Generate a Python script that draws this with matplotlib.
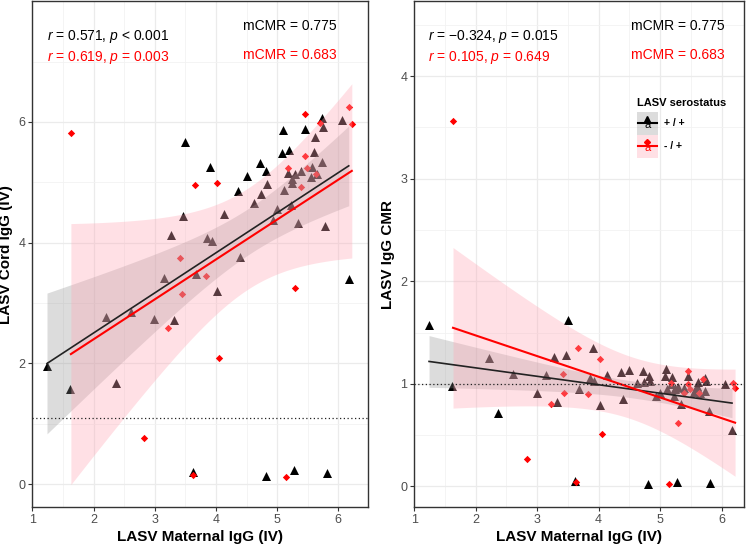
import numpy as np
import matplotlib
matplotlib.use('Agg')
from matplotlib import pyplot as plt
from matplotlib.patches import Rectangle
from matplotlib.ticker import MultipleLocator

plt.rcParams['font.family'] = ['Liberation Sans', 'DejaVu Sans']
plt.rcParams['mathtext.fontset'] = 'custom'
plt.rcParams['mathtext.rm'] = 'Liberation Sans'
plt.rcParams['mathtext.it'] = 'Liberation Sans:italic'

# LASV serostatus +/+ (black triangles): maternal IgG vs cord IgG (IV)
pos_maternal = [3.50, 3.90, 5.10, 5.46, 5.73, 5.75, 6.06, 5.08, 5.19, 4.72, 4.82, 4.50, 4.36, 3.47,
                3.27, 4.13, 5.62, 5.60, 5.73, 5.57, 5.55, 5.65, 5.39, 5.29, 5.17, 5.24, 5.25, 5.12,
                4.84, 4.73, 4.63, 5.00, 4.94, 5.23, 5.34, 5.79, 3.86, 3.93, 4.40, 6.17, 3.15, 3.68,
                4.02, 2.21, 2.61, 2.99, 3.32, 1.24, 1.62, 2.36, 3.62, 4.81, 5.28, 5.81]
pos_cord = [5.67, 5.25, 5.86, 5.89, 6.06, 5.92, 6.04, 5.49, 5.53, 5.32, 5.19, 5.10, 4.85, 4.45,
            4.12, 4.47, 5.75, 5.51, 5.33, 5.26, 5.09, 5.14, 5.19, 5.14, 5.15, 5.05, 4.99, 4.88,
            4.98, 4.81, 4.65, 4.56, 4.37, 4.62, 4.32, 4.28, 4.08, 4.03, 3.77, 3.40, 3.42, 3.48,
            3.20, 2.77, 2.85, 2.73, 2.72, 1.95, 1.58, 1.68, 0.20, 0.13, 0.24, 0.19]

# LASV serostatus -/+ (red diamonds)
neg_maternal = [1.63, 5.45, 6.18, 6.22, 5.70, 5.46, 5.17, 5.48, 5.64, 5.39, 3.66, 4.02, 3.42, 3.83,
                3.44, 3.22, 4.05, 5.29, 2.83, 3.63, 5.15]
neg_cord = [5.81, 6.14, 6.25, 5.96, 5.98, 5.43, 5.23, 5.23, 5.14, 4.92, 4.95, 4.99, 3.75, 3.44,
            3.15, 2.59, 2.09, 3.25, 0.77, 0.15, 0.11]

# cord-to-maternal ratio (CMR) of each pair
pos_cmr = np.array(pos_cord) / np.array(pos_maternal)
neg_cmr = np.array(neg_cord) / np.array(neg_maternal)

cord_cutoff = 1.1
cmr_ref = 1.0

cord_stats = ['$r$ = 0.571, $p$ < 0.001', '$r$ = 0.619, $p$ = 0.003']
cmr_stats = ['$r$ = \u22120.324, $p$ = 0.015', '$r$ = 0.105, $p$ = 0.649']
mcmr_labels = ['mCMR = 0.775', 'mCMR = 0.683']
group_labels = ['+ / +', '- / +']

RED = '#FF0000'
GREY_FILL = '#8C8C8C'
PINK_FILL = '#FFA8B6'


def t975(df):
    # Cornish-Fisher approximation of the 97.5% t quantile
    z = 1.959964
    return z + (z**3 + z) / (4 * df) + (5 * z**5 + 16 * z**3 + 3 * z) / (96 * df**2)


def lm_smooth(ax, x, y, fill, alpha):
    x = np.asarray(x, float)
    y = np.asarray(y, float)
    n = len(x)
    b, a = np.polyfit(x, y, 1)
    xs = np.linspace(x.min(), x.max(), 100)
    fit = a + b * xs
    s = np.sqrt(np.sum((y - (a + b * x)) ** 2) / (n - 2))
    se = s * np.sqrt(1 / n + (xs - x.mean()) ** 2 / np.sum((x - x.mean()) ** 2))
    t = t975(n - 2)
    ax.fill_between(xs, fit - t * se, fit + t * se, color=fill, alpha=alpha, lw=0, zorder=3)
    return xs, fit


def style(ax):
    ax.set_facecolor('white')
    ax.xaxis.set_major_locator(MultipleLocator(1))
    ax.xaxis.set_minor_locator(MultipleLocator(0.5))
    ax.grid(which='major', color='#EBEBEB', lw=0.9, zorder=0)
    ax.grid(which='minor', color='#F2F2F2', lw=0.6, zorder=0)
    ax.tick_params(which='major', length=3, width=0.8, color='#333333', labelcolor='#4D4D4D',
                   labelsize=9, pad=2)
    ax.tick_params(which='minor', length=0)
    for sp in ax.spines.values():
        sp.set_color('#333333')
        sp.set_linewidth(1.0)
    ax.set_axisbelow(True)


def panel(ax, y_pos, y_neg, hline, stats, tx, mx):
    ax.scatter(pos_maternal, y_pos, marker='^', s=42, color='black', lw=0, zorder=2)
    ax.scatter(neg_maternal, y_neg, marker='D', s=14, color=RED, lw=0, zorder=2)
    xb, fb = lm_smooth(ax, pos_maternal, y_pos, GREY_FILL, 0.3)
    xr, fr = lm_smooth(ax, neg_maternal, y_neg, PINK_FILL, 0.35)
    ax.plot(xb, fb, color='#222222', lw=1.2, zorder=4)
    ax.plot(xr, fr, color=RED, lw=1.5, zorder=4)
    ax.axhline(hline, color='#222222', lw=0.9, ls=(0, (1, 2)), zorder=4)
    ax.text(tx, 0.931, stats[0], transform=ax.transAxes, fontsize=10, color='black', va='center')
    ax.text(tx, 0.889, stats[1], transform=ax.transAxes, fontsize=10, color=RED, va='center')
    ax.text(mx, 0.951, mcmr_labels[0], transform=ax.transAxes, fontsize=10, color='black',
            va='center', ha='right')
    ax.text(mx, 0.893, mcmr_labels[1], transform=ax.transAxes, fontsize=10, color=RED,
            va='center', ha='right')
    ax.set_xlabel('LASV Maternal IgG (IV)', fontsize=11, fontweight='bold')
    ax.xaxis.set_label_coords(0.5, -0.045)
    style(ax)


fig = plt.figure(figsize=(7.5, 5.45), dpi=100)
ax1 = fig.add_axes([0.0431, 0.0697, 0.448, 0.928])
ax2 = fig.add_axes([0.5524, 0.0697, 0.4400, 0.928])

panel(ax1, pos_cord, neg_cord, cord_cutoff, cord_stats, 0.045, 0.905)
ax1.set_xlim(1.0, 6.49)
ax1.set_ylim(-0.38, 8.0)
ax1.set_yticks([0, 2, 4, 6])
ax1.yaxis.set_minor_locator(MultipleLocator(1))
ax1.set_ylabel('LASV Cord IgG (IV)', fontsize=11, fontweight='bold')
ax1.yaxis.set_label_coords(-0.057, 0.5)

panel(ax2, pos_cmr, neg_cmr, cmr_ref, cmr_stats, 0.042, 0.939)
ax2.set_xlim(1.0, 6.37)
ax2.set_ylim(-0.2, 4.73)
ax2.set_yticks([0, 1, 2, 3, 4])
ax2.yaxis.set_minor_locator(MultipleLocator(0.5))
ax2.set_ylabel('LASV IgG CMR', fontsize=11, fontweight='bold')
ax2.yaxis.set_label_coords(-0.058, 0.5)

# legend drawn by hand inside the right panel (axes fraction coordinates)
tr = ax2.transAxes
ax2.text(0.674, 0.799, 'LASV serostatus', transform=tr, fontsize=8, fontweight='bold',
         va='center', ha='left', zorder=6)
key_w, key_h = 0.065, 0.045
for i, (col, fill, alpha, mk, ms) in enumerate([('black', GREY_FILL, 0.3, '^', 4.5),
                                                (RED, PINK_FILL, 0.35, 'D', 3)]):
    y0 = 0.736 - i * key_h
    ax2.add_patch(Rectangle((0.674, y0), key_w, key_h, transform=tr, facecolor=fill,
                            alpha=alpha, lw=0, zorder=5))
    yc = y0 + key_h / 2
    ax2.plot([0.678, 0.735], [yc, yc], transform=tr, color=col, lw=1.5, zorder=6, clip_on=False)
    ax2.plot([0.7065], [yc + 0.008], transform=tr, marker=mk, ms=ms, color=col, ls='none',
             zorder=6, clip_on=False)
    ax2.text(0.7065, yc - 0.004, 'a', transform=tr, fontsize=8, color=col, ha='center',
             va='center', zorder=6)
    ax2.text(0.757, yc, group_labels[i], transform=tr, fontsize=7.5, fontweight='bold',
             va='center', ha='left', zorder=6)

fig.savefig('out.png', dpi=100)
